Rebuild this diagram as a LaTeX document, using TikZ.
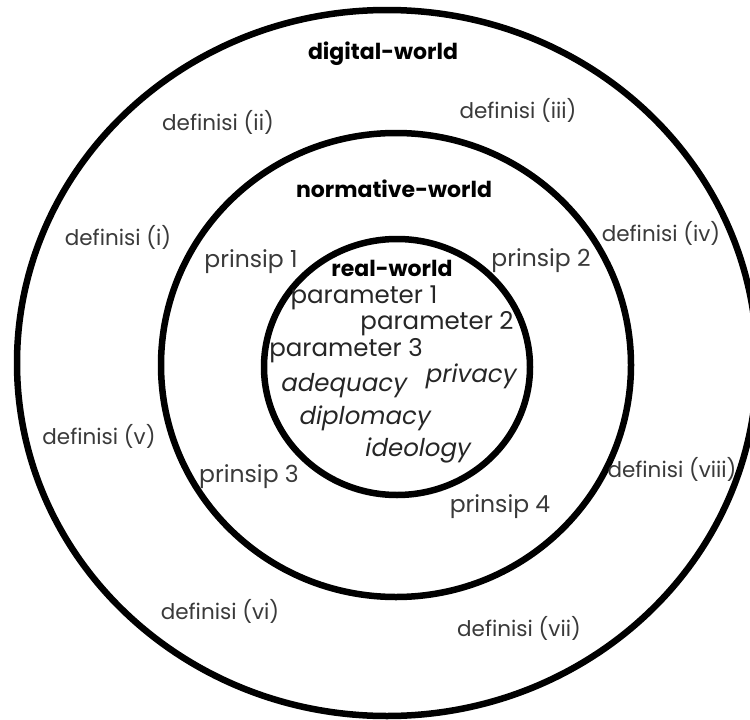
\documentclass[tikz,border=0pt]{standalone}
\usepackage{fontspec}
\setmainfont{Poppins}
\newfontfamily\slantfont[FakeSlant=0.18]{Poppins}
\definecolor{txtgray}{HTML}{3A3A3A}
\definecolor{txtdark}{HTML}{262626}
\begin{document}
\begin{tikzpicture}[x=1pt,y=-1pt,
  ring/.style={line width=6.5pt, black},
  outerlbl/.style={font=\fontsize{21.5}{24}\selectfont, text=txtgray, inner sep=0pt},
  prlbl/.style={font=\fontsize{23.5}{26}\selectfont, text=txtgray, inner sep=0pt},
  parlbl/.style={font=\fontsize{24.5}{28}\selectfont, text=txtdark, inner sep=0pt},
  itlbl/.style={font=\fontsize{24.5}{28}\selectfont\slantfont, text=txtdark, inner sep=0pt},
  title/.style={font=\fontsize{22}{25}\selectfont\bfseries, text=black, inner sep=0pt}]
\useasboundingbox (0,0) rectangle (750,720);
\fill[white] (0,0) rectangle (750,720);
\clip (0,0) rectangle (750,720);
% rings
\draw[ring] (387,363) ellipse [x radius=370pt, y radius=353pt];
\draw[ring] (396,365) ellipse [x radius=235pt, y radius=232pt];
\draw[ring] (397,367) ellipse [x radius=133pt, y radius=128pt];
% titles
\node[title] (digital) at (383,54) {digital-world};
\node[title] (normative) at (394,189) {normative-world};
\node[title] (real) at (392,268) {real-world};
% definisi
\node[outerlbl] (d1) at (118,237) {definisi (i)};
\node[outerlbl] (d2) at (218,122) {definisi (ii)};
\node[outerlbl] (d3) at (518,110) {definisi (iii)};
\node[outerlbl] (d4) at (661,233) {definisi (iv)};
\node[outerlbl] (d5) at (99,436) {definisi (v)};
\node[outerlbl] (d6) at (220,611) {definisi (vi)};
\node[outerlbl] (d7) at (519,628) {definisi (vii)};
\node[outerlbl] (d8) at (672,469) {definisi (viii)};
% prinsip
\node[prlbl] (p1) at (251,262) {prinsip 1};
\node[prlbl] (p2) at (541,261) {prinsip 2};
\node[prlbl] (p3) at (249,477) {prinsip 3};
\node[prlbl] (p4) at (500,507) {prinsip 4};
% parameters
\node[parlbl] (par1) at (364,298) {parameter 1};
\node[parlbl] (par2) at (437,324) {parameter 2};
\node[parlbl] (par3) at (346,351) {parameter 3};
\node[itlbl] (priv) at (470,376) {privacy};
\node[itlbl] (adeq) at (343,386) {adequacy};
\node[itlbl] (dipl) at (364,418) {diplomacy};
\node[itlbl] (ideo) at (417,450) {ideology};
\end{tikzpicture}
\end{document}
